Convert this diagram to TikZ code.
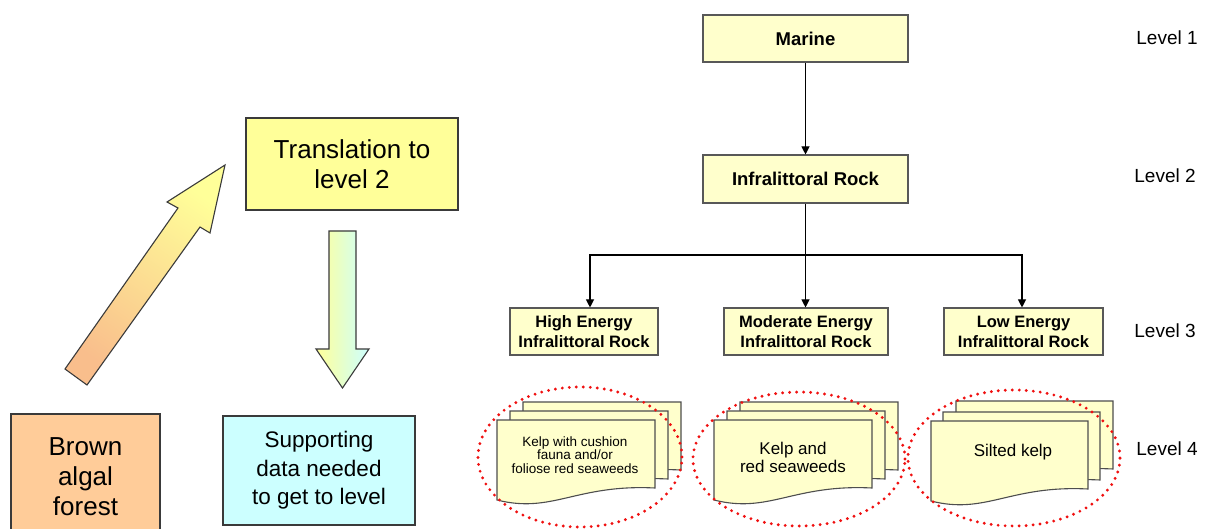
\documentclass[tikz,border=0pt]{standalone}
\usepackage{fontspec}
\setmainfont{Liberation Sans}
\usetikzlibrary{arrows.meta,calc}
\definecolor{lvl}{HTML}{FFFFCC}
\definecolor{transy}{HTML}{FFFF99}
\definecolor{peach}{HTML}{FFCC99}
\definecolor{peachdk}{HTML}{F9BE8C}
\definecolor{pcyan}{HTML}{CCFFFF}
\definecolor{bord}{HTML}{3A3A3A}
\definecolor{ringred}{HTML}{F01010}
\tikzset{
  lvlbox/.style={draw=bord!85, line width=1.1pt, fill=lvl, align=center, inner sep=0pt,
    minimum height=47pt, font=\bfseries\fontsize{18.5}{20}\selectfont},
  lvlthree/.style={lvlbox, font=\bfseries\fontsize{16.5}{20}\selectfont},
  conn/.style={line width=1.1pt, black},
  arr/.style={-{Triangle[length=8pt,width=8pt]}},
  lvllabel/.style={font=\fontsize{19}{21}\selectfont},
  bigbox/.style={draw=bord, line width=1.4pt, align=center, inner sep=0pt},
  docsty/.style={draw=bord!90, line width=1.1pt, fill=lvl},
  ring/.style={draw=ringred, line width=3.2pt, dash pattern=on 0pt off 7pt, line cap=round},
}
\newcommand\docshape[3]{%
  \pgfmathsetmacro\dr{#1+#3}%
  \pgfmathsetmacro\cxa{#1+0.5*#3}%
  \pgfmathsetmacro\cxb{#1+0.35*#3}%
  \filldraw[docsty] (#1,#2) -- (\dr,#2) -- (\dr,#2+68)
    .. controls (\cxa,#2+64) and (\cxb,#2+94) .. (#1,#2+80) -- cycle;}
\begin{document}
\begin{tikzpicture}[x=1pt,y=-1pt]
\useasboundingbox (0,0) rectangle (1210,529);
\clip (0,0) rectangle (1210,529);
\fill[white] (0,0) rectangle (1210,529);

% ---------- left part ----------
\node[bigbox, fill=transy, minimum width=212pt, minimum height=92pt,
  font=\fontsize{26}{30}\selectfont] (trans) at (352,164) {Translation to\\level 2};
\node[bigbox, fill=peach, minimum width=149pt, minimum height=126pt,
  font=\fontsize{26}{30}\selectfont] (brown) at (85.5,477) {Brown\\algal\\forest};
\node[bigbox, fill=pcyan, minimum width=192pt, minimum height=109pt,
  font=\fontsize{22.5}{28.5}\selectfont] (supp) at (319,470.5) {Supporting\\data needed\\to get to level};

% diagonal block arrow
\shadedraw[draw=bord, line width=1.1pt, top color=transy, bottom color=peachdk, shading angle=-35]
  (65,369) -- (178,208) -- (167,202) -- (225,165) -- (210,233) -- (200,227) -- (87,385) -- cycle;
% down block arrow
\shadedraw[draw=bord, line width=1.1pt, left color=transy, right color=pcyan]
  (329,231) -- (356,231) -- (356,349) -- (369,349) -- (342.5,388) -- (316,349) -- (329,349) -- cycle;

% ---------- hierarchy ----------
\node[lvlbox, minimum width=205pt] (marine) at (805.5,38.5) {Marine};
\node[lvlbox, minimum width=205pt, minimum height=48pt] (ir) at (805.5,179) {Infralittoral Rock};
\node[lvlthree, minimum width=148pt] (he) at (584,331.5) {High Energy\\Infralittoral Rock};
\node[lvlthree, minimum width=164pt] (me) at (806,331.5) {Moderate Energy\\Infralittoral Rock};
\node[lvlthree, minimum width=159pt] (le) at (1023.5,331.5) {Low Energy\\Infralittoral Rock};

\coordinate (split) at (805.5,255);
\draw[conn, arr] (marine) -- (ir);
\draw[conn] (ir.south) -- (split);
\draw[conn, arr] (split) -| ($(he.north)+(6,0)$);
\draw[conn, arr] (split) -- (me.north -| split);
\draw[conn, arr] (split) -| ($(le.north)+(-1.5,0)$);

% level labels
\node[lvllabel] (l1) at (1167,38) {Level 1};
\node[lvllabel] (l2) at (1165,176) {Level 2};
\node[lvllabel] (l3) at (1165,331) {Level 3};
\node[lvllabel] (l4) at (1167,449) {Level 4};

% level 4 documents
\docshape{523}{402}{158}
\docshape{510}{411}{158}
\docshape{497}{420}{158}
\docshape{740}{402}{158}
\docshape{727}{411}{158}
\docshape{714}{420}{158}
\docshape{956}{401}{157}
\docshape{943}{412}{157}
\docshape{931}{421}{157}

\node[align=center, font=\fontsize{13.5}{13.8}\selectfont] (k1) at (575,455) {Kelp with cushion\\fauna and/or\\foliose red seaweeds};
\node[align=center, font=\fontsize{17}{18}\selectfont] (k2) at (793,457) {Kelp and\\red seaweeds};
\node[align=center, font=\fontsize{17}{18}\selectfont] (k3) at (1013,452) {Silted kelp};

% red dotted rings
\draw[ring] (580,457) ellipse [x radius=102pt, y radius=70pt];
\draw[ring] (799,459) ellipse [x radius=106pt, y radius=67pt];
\draw[ring] (1014,458) ellipse [x radius=106pt, y radius=68pt];
\end{tikzpicture}
\end{document}
